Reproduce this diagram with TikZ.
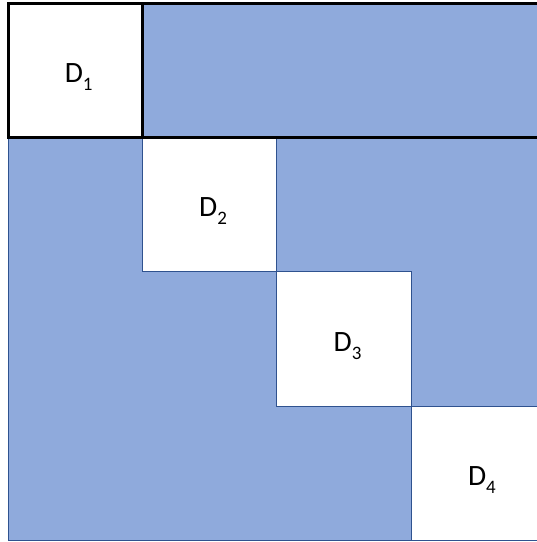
\documentclass[tikz,border=0pt]{standalone}
\usepackage{fontspec}
\setmainfont{Carlito}
\usepackage{xcolor}
\usetikzlibrary{positioning}
\definecolor{blockblue}{HTML}{8FAADC}
\definecolor{edgeblue}{HTML}{2F528F}
\newcommand{\blocklabel}[1]{\hspace*{7pt}D\raisebox{-8pt}{\fontsize{19}{19}\selectfont #1}}

\begin{document}
\begin{tikzpicture}[x=1pt, y=-1pt, node distance=0pt,
    every node/.style={font=\fontsize{29.5}{32}\selectfont},
    diagblock/.style={draw=edgeblue, fill=white, line width=0.8pt, minimum width=134.4pt, minimum height=134.4pt, inner sep=0pt, outer sep=0pt, text height=32pt, text depth=8pt},
    rowframe/.style={draw=black, line width=3pt}]
    \useasboundingbox (0,0) rectangle (537,542);
    \clip (0,0) rectangle (537,542);
    % blue background block
    \fill[blockblue, draw=edgeblue, line width=0.8pt] (8,3) rectangle (545.6,540.6);
    % diagonal blocks
    \node[diagblock, anchor=north west] (D1) at (8,3) {\blocklabel{1}};
    \node[diagblock, below right=of D1] (D2) {\blocklabel{2}};
    \node[diagblock, below right=of D2] (D3) {\blocklabel{3}};
    \node[diagblock, below right=of D3] (D4) {\blocklabel{4}};
    \coordinate (rowend) at (545.6,0);
    % first block row
    \draw[rowframe] (D1.north west) rectangle (D1.south east -| rowend);
    \draw[rowframe] (D1.north west) rectangle (D1.south east);
\end{tikzpicture}
\end{document}
